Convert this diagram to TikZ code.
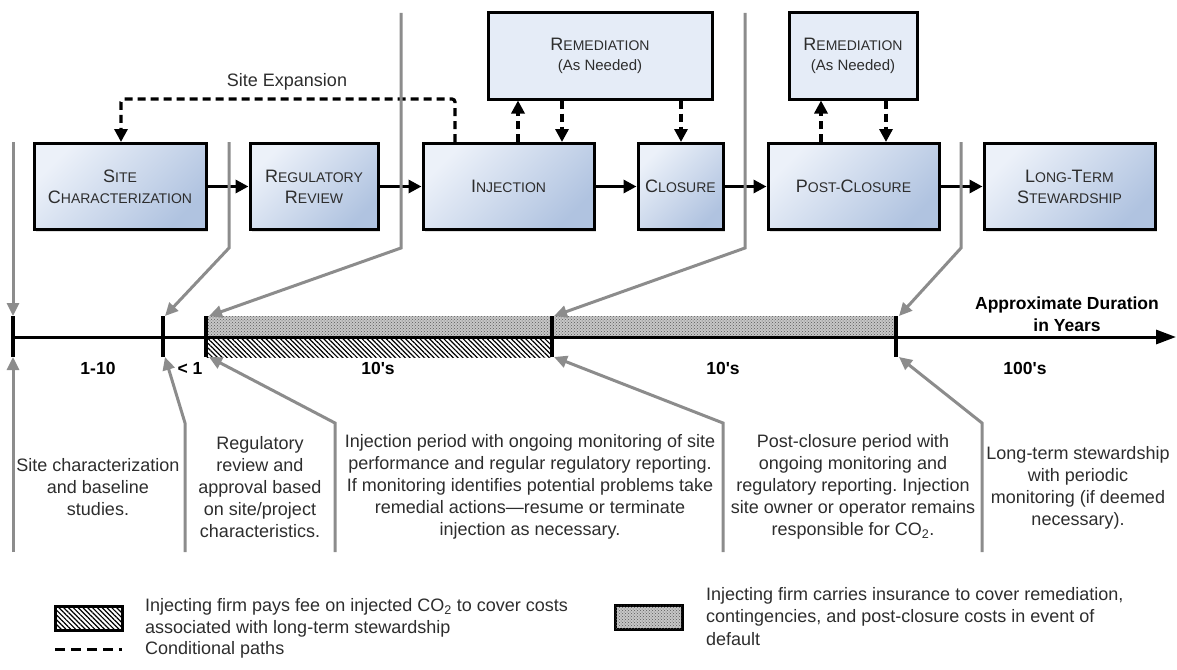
\documentclass[tikz,border=0pt]{standalone}
\usepackage{fontspec}
\setmainfont{Liberation Sans}
\usetikzlibrary{arrows.meta,patterns,patterns.meta,shadows}
\definecolor{boxA}{RGB}{236,241,249}
\definecolor{boxB}{RGB}{176,195,224}
\definecolor{remfill}{RGB}{229,236,247}
\definecolor{gline}{RGB}{140,140,140}
\definecolor{txt}{RGB}{45,45,45}
\newcommand\Sc[2]{{\fontsize{18}{21}\selectfont #1}{\fontsize{14}{21}\selectfont #2}}
\frenchspacing
\begin{document}
\begin{tikzpicture}[x=1pt,y=-1pt,
  stage/.style={draw=black, line width=3pt, top color=boxA, bottom color=boxB, shading angle=45,
    drop shadow={shadow xshift=2pt,shadow yshift=-2pt,opacity=.25},
    inner sep=0pt, align=center, text=txt, minimum height=86pt,
    font=\fontsize{18}{21}\selectfont},
  remed/.style={draw=black, line width=3pt, fill=remfill,
    drop shadow={shadow xshift=2pt,shadow yshift=-2pt,opacity=.25},
    inner sep=0pt, align=center, text=txt, minimum height=86pt,
    font=\fontsize{15}{20}\selectfont},
  arr/.style={line width=3.2pt, -{Triangle[length=13pt,width=13pt]}},
  darr/.style={arr, dash pattern=on 8pt off 5pt},
  gl/.style={draw=gline, line width=3pt},
  garr/.style={gl, -{Triangle[length=13pt,width=12pt]}},
  tickl/.style={line width=3.2pt},
  desc/.style={align=center, text=txt, font=\fontsize{18}{22}\selectfont, inner sep=0pt},
  dur/.style={font=\bfseries\fontsize{17.5}{21}\selectfont, inner sep=0pt},
  legt/.style={align=left, text=txt, font=\fontsize{18}{22.5}\selectfont, inner sep=0pt, anchor=west},
]
\useasboundingbox (0,0) rectangle (1177,669);

% ---- stage boxes
\node[stage, minimum width=172pt] (sc) at (120,186.5) {\Sc{S}{ITE}\\\Sc{C}{HARACTERIZATION}};
\node[stage, minimum width=128pt] (rr) at (314,186.5) {\Sc{R}{EGULATORY}\\\Sc{R}{EVIEW}};
\node[stage, minimum width=171pt] (inj) at (508.5,186.5) {\Sc{I}{NJECTION}};
\node[stage, minimum width=85pt] (clo) at (680.5,186.5) {\Sc{C}{LOSURE}};
\node[stage, minimum width=171pt] (pc) at (853.5,186.5) {\Sc{P}{OST-}\Sc{C}{LOSURE}};
\node[stage, minimum width=171pt] (lts) at (1069.5,186.5) {\Sc{L}{ONG-}\Sc{T}{ERM}\\\Sc{S}{TEWARDSHIP}};
\node[remed, minimum width=224pt] (rem1) at (600,56) {\Sc{R}{EMEDIATION}\\(As Needed)};
\node[remed, minimum width=128pt] (rem2) at (853,56) {\Sc{R}{EMEDIATION}\\(As Needed)};

% ---- main flow
\draw[arr] (sc.east) -- (rr.west);
\draw[arr] (rr.east) -- (inj.west);
\draw[arr] (inj.east) -- (clo.west);
\draw[arr] (clo.east) -- (pc.west);
\draw[arr] (pc.east) -- (lts.west);

% ---- conditional paths
\coordinate (a1) at (518,0);
\coordinate (a2) at (562,0);
\coordinate (a3) at (681,0);
\coordinate (a4) at (821,0);
\coordinate (a5) at (886,0);
\draw[darr] (inj.north -| a1) -- (rem1.south -| a1);
\draw[darr] (rem1.south -| a2) -- (inj.north -| a2);
\draw[darr] (rem1.south -| a3) -- (clo.north -| a3);
\draw[darr] (pc.north -| a4) -- (rem2.south -| a4);
\draw[darr] (rem2.south -| a5) -- (pc.north -| a5);

\coordinate (se1) at (455,99);
\coordinate (se2) at (121,99);
\draw[darr, rounded corners=3pt] (inj.north -| se1) -- (se1) -- (se2) -- (sc.north -| se2);
\node[text=txt, font=\fontsize{18}{22}\selectfont, inner sep=0pt] (selab) at (287,82) {Site Expansion};

% ---- timeline
\coordinate (t1t) at (13,316);   \coordinate (t1b) at (13,357);
\coordinate (t2t) at (163,316);  \coordinate (t2b) at (163,357);
\coordinate (t3t) at (206,316);  \coordinate (t3b) at (206,357);
\coordinate (t4t) at (552,316);  \coordinate (t4b) at (552,357);
\coordinate (t5t) at (896,316);  \coordinate (t5b) at (896,357);
\coordinate (ax0) at (13,337);   \coordinate (ax1) at (1176,337);

\fill[black!22] (206,316) rectangle (896,337);
\path[pattern=crosshatch dots, pattern color=black!65] (206,316) rectangle (896,337);
\fill[white] (206,337) rectangle (552,357);
\path[pattern={Lines[angle=-45,distance=3.4pt,line width=1.2pt]}] (206,337) rectangle (552,357);

\draw[line width=3pt, -{Triangle[length=20pt,width=14pt]}] (ax0) -- (ax1);
\foreach \t in {1,...,5} \draw[tickl] (t\t t) -- (t\t b);

\node[dur] (d1) at (98,368) {1-10};
\node[dur] (d2) at (190,368) {< 1};
\node[dur] (d3) at (378,368) {10\textquotesingle s};
\node[dur] (d4) at (723,368) {10\textquotesingle s};
\node[dur] (d5) at (1025,368) {100\textquotesingle s};
\node[dur, align=center, font=\bfseries\fontsize{17.5}{22}\selectfont] (axlab) at (1067,314) {Approximate Duration\\in Years};

% ---- gray pointer lines (top)
\coordinate (gA) at (13,142);
\coordinate (gB) at (229,142);  \coordinate (gBk) at (229,248);
\coordinate (gC) at (401,13);   \coordinate (gCk) at (401,248);
\coordinate (gD) at (745,13);   \coordinate (gDk) at (745,248);
\coordinate (gE) at (961,142);  \coordinate (gEk) at (961,248);
\draw[garr] (gA) -- (t1t);
\draw[garr] (gB) -- (gBk) -- ([xshift=2pt]t2t);
\draw[garr] (gC) -- (gCk) -- ([xshift=3pt]t3t);
\draw[garr] (gD) -- (gDk) -- ([xshift=2pt]t4t);
\draw[garr] (gE) -- (gEk) -- ([xshift=3pt]t5t);

% ---- gray pointer lines (bottom)
\coordinate (hA) at (13,552);
\coordinate (hB) at (185,552);  \coordinate (hBk) at (185,423);
\coordinate (hC) at (335,552);  \coordinate (hCk) at (335,423);
\coordinate (hD) at (723,552);  \coordinate (hDk) at (723,423);
\coordinate (hE) at (982,552);  \coordinate (hEk) at (982,423);
\draw[garr] (hA) -- (t1b);
\draw[garr] (hB) -- (hBk) -- ([xshift=2pt]t2b);
\draw[garr] (hC) -- (hCk) -- ([xshift=3pt]t3b);
\draw[garr] (hD) -- (hDk) -- ([xshift=2pt]t4b);
\draw[garr] (hE) -- (hEk) -- ([xshift=3pt]t5b);

% ---- descriptions
\node[desc] (x1) at (98,487) {Site characterization\\and baseline\\studies.};
\node[desc] (x2) at (260,487) {Regulatory\\review and\\approval based\\on site/project\\characteristics.};
\node[desc] (x3) at (530,487) {Injection period with ongoing monitoring of site\\performance and regular regulatory reporting.\\If monitoring identifies potential problems take\\remedial actions---resume or terminate\\injection as necessary.};
\node[desc] (x4) at (853,487) {Post-closure period with\\ongoing monitoring and\\regulatory reporting. Injection\\site owner or operator remains\\responsible for CO\textsubscript{2}.};
\node[desc] (x5) at (1078,488) {Long-term stewardship\\with periodic\\monitoring (if deemed\\necessary).};

% ---- legend
\draw[line width=3pt, fill=white] (55,606) rectangle (122,630);
\path[pattern={Lines[angle=-45,distance=3.4pt,line width=1.2pt]}] (55,606) rectangle (122,630);
\node[legt] (l1) at (145,618) {Injecting firm pays fee on injected CO\textsubscript{2} to cover costs\\associated with long-term stewardship};
\coordinate (ld0) at (55,649); \coordinate (ld1) at (122,649);
\draw[line width=3pt, dash pattern=on 10pt off 6pt] (ld0) -- (ld1);
\node[legt] (l2) at (145,650) {Conditional paths};
\draw[line width=3pt, fill=black!22] (615,605) rectangle (682,629);
\path[pattern=crosshatch dots, pattern color=black!65] (615,605) rectangle (682,629);
\node[legt] (l3) at (706,616.5) {Injecting firm carries insurance to cover remediation,\\contingencies, and post-closure costs in event of\\default};
\end{tikzpicture}
\end{document}
